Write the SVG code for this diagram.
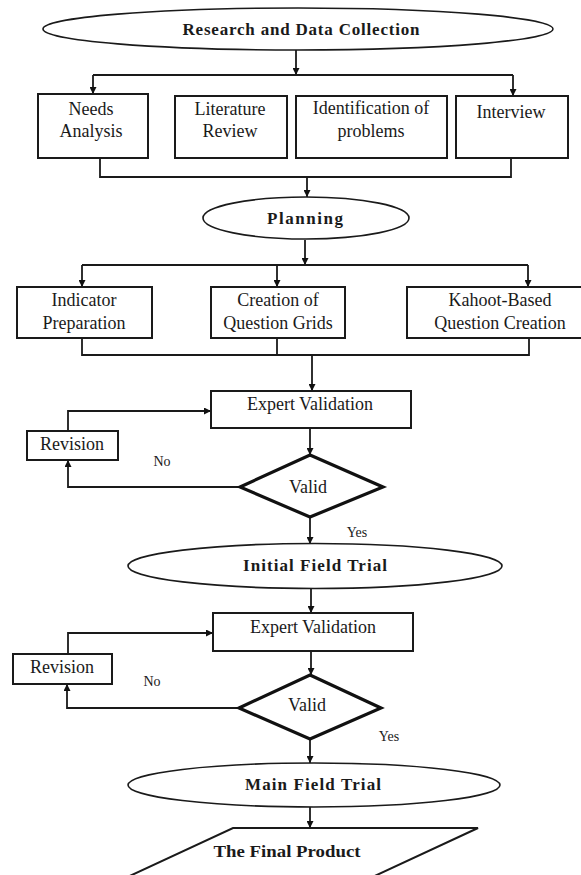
<svg xmlns="http://www.w3.org/2000/svg" width="581" height="875" viewBox="0 0 581 875">
<defs>
<marker id="ah" viewBox="0 0 10 10" refX="10" refY="5" markerWidth="7" markerHeight="7" markerUnits="userSpaceOnUse" orient="auto">
<path d="M0,0 L10,5 L0,10 z" fill="#111"/>
</marker>
<style>
.box{fill:#fff;stroke:#1a1a1a;stroke-width:2}
.ell{fill:#fff;stroke:#1a1a1a;stroke-width:1.6}
.dia{fill:#fff;stroke:#111;stroke-width:3.2;stroke-linejoin:miter}
.ln{fill:none;stroke:#1a1a1a;stroke-width:1.8}
.ar{fill:none;stroke:#1a1a1a;stroke-width:1.8;marker-end:url(#ah)}
.t{font-family:"Liberation Serif","Times New Roman",serif;font-size:18px;fill:#1a1a1a;text-anchor:middle}
.b{font-family:"Liberation Serif","Times New Roman",serif;font-size:17px;font-weight:bold;fill:#1a1a1a;text-anchor:middle}
.s{font-family:"Liberation Serif","Times New Roman",serif;font-size:14px;fill:#1a1a1a;text-anchor:middle}
</style>
</defs>
<rect width="581" height="875" fill="#fff"/>

<g id="connectors">
<path class="ar" d="M296,50 V75"/>
<path class="ln" d="M93,75 H513"/>
<path class="ar" d="M93,75 V94"/>
<path class="ar" d="M513,75 V96"/>
<path class="ln" d="M100,158 V177 H511 V158"/>
<path class="ar" d="M307,177 V197"/>
<path class="ar" d="M305,240 V265"/>
<path class="ln" d="M82,265 H528"/>
<path class="ar" d="M82,265 V287"/>
<path class="ar" d="M277,265 V287"/>
<path class="ar" d="M528,265 V287"/>
<path class="ln" d="M82,338 V355 H529 V338"/>
<path class="ln" d="M277,338 V355"/>
<path class="ar" d="M312,355 V391"/>
<path class="ar" d="M310,428 V455"/>
<path class="ar" d="M240,487 H68 V460"/>
<path class="ar" d="M68,431 V411 H211"/>
<path class="ar" d="M310,517 V544"/>
<path class="ar" d="M311,589 V613"/>
<path class="ar" d="M311,651 V675"/>
<path class="ar" d="M239,708 H67 V684"/>
<path class="ar" d="M68,654 V633 H213"/>
<path class="ar" d="M310,739 V763"/>
<path class="ar" d="M310,807 V828"/>
</g>

<g id="research">
<ellipse class="ell" cx="298" cy="29" rx="255" ry="21"/>
<text class="b" x="301" y="35" textLength="237" lengthAdjust="spacing">Research and Data Collection</text>
</g>

<g id="needs">
<rect class="box" x="38" y="94" width="110" height="64"/>
<text class="t" x="91" y="115">Needs</text>
<text class="t" x="91" y="137">Analysis</text>
</g>

<g id="literature">
<rect class="box" x="175" y="96" width="112" height="62"/>
<text class="t" x="230" y="115">Literature</text>
<text class="t" x="230" y="137">Review</text>
</g>

<g id="identification">
<rect class="box" x="296" y="96" width="151" height="62"/>
<text class="t" x="371" y="114">Identification of</text>
<text class="t" x="371" y="137">problems</text>
</g>

<g id="interview">
<rect class="box" x="456" y="96" width="112" height="62"/>
<text class="t" x="511" y="118">Interview</text>
</g>

<g id="planning">
<ellipse class="ell" cx="306" cy="218" rx="103" ry="21"/>
<text class="b" x="305" y="224" textLength="76" lengthAdjust="spacing">Planning</text>
</g>

<g id="indicator">
<rect class="box" x="17" y="287" width="135" height="51"/>
<text class="t" x="84" y="306">Indicator</text>
<text class="t" x="84" y="329">Preparation</text>
</g>

<g id="grids">
<rect class="box" x="211" y="287" width="134" height="51"/>
<text class="t" x="278" y="306">Creation of</text>
<text class="t" x="278" y="329">Question Grids</text>
</g>

<g id="kahoot">
<rect class="box" x="407" y="287" width="177" height="51"/>
<text class="t" x="500" y="306">Kahoot-Based</text>
<text class="t" x="500" y="329">Question Creation</text>
</g>

<g id="expert1">
<rect class="box" x="211" y="391" width="200" height="37"/>
<text class="t" x="310" y="410">Expert Validation</text>
</g>

<g id="revision1">
<rect class="box" x="27" y="431" width="91" height="29"/>
<text class="t" x="72" y="450">Revision</text>
</g>

<g id="valid1">
<polygon class="dia" points="310,455 383,487 310,517 240,487"/>
<text class="t" x="308" y="493">Valid</text>
</g>

<g id="labels">
<text class="s" x="162" y="466">No</text>
<text class="s" x="357" y="537">Yes</text>
<text class="s" x="152" y="686">No</text>
<text class="s" x="389" y="741">Yes</text>
</g>

<g id="initial">
<ellipse class="ell" cx="315" cy="566" rx="187" ry="22.5"/>
<text class="b" x="315" y="571" textLength="144" lengthAdjust="spacing">Initial Field Trial</text>
</g>

<g id="expert2">
<rect class="box" x="213" y="613" width="200" height="38"/>
<text class="t" x="313" y="633">Expert Validation</text>
</g>

<g id="revision2">
<rect class="box" x="13" y="654" width="99" height="30"/>
<text class="t" x="62" y="673">Revision</text>
</g>

<g id="valid2">
<polygon class="dia" points="310,675 381,708 310,739 239,708"/>
<text class="t" x="307" y="711">Valid</text>
</g>

<g id="main">
<ellipse class="ell" cx="314" cy="785" rx="186" ry="22"/>
<text class="b" x="313" y="790" textLength="136" lengthAdjust="spacing">Main Field Trial</text>
</g>

<g id="final">
<polygon class="box" points="233,828 478,828 323,900 78,900"/>
<text class="b" x="287" y="857" textLength="147" lengthAdjust="spacingAndGlyphs">The Final Product</text>
</g>
</svg>
